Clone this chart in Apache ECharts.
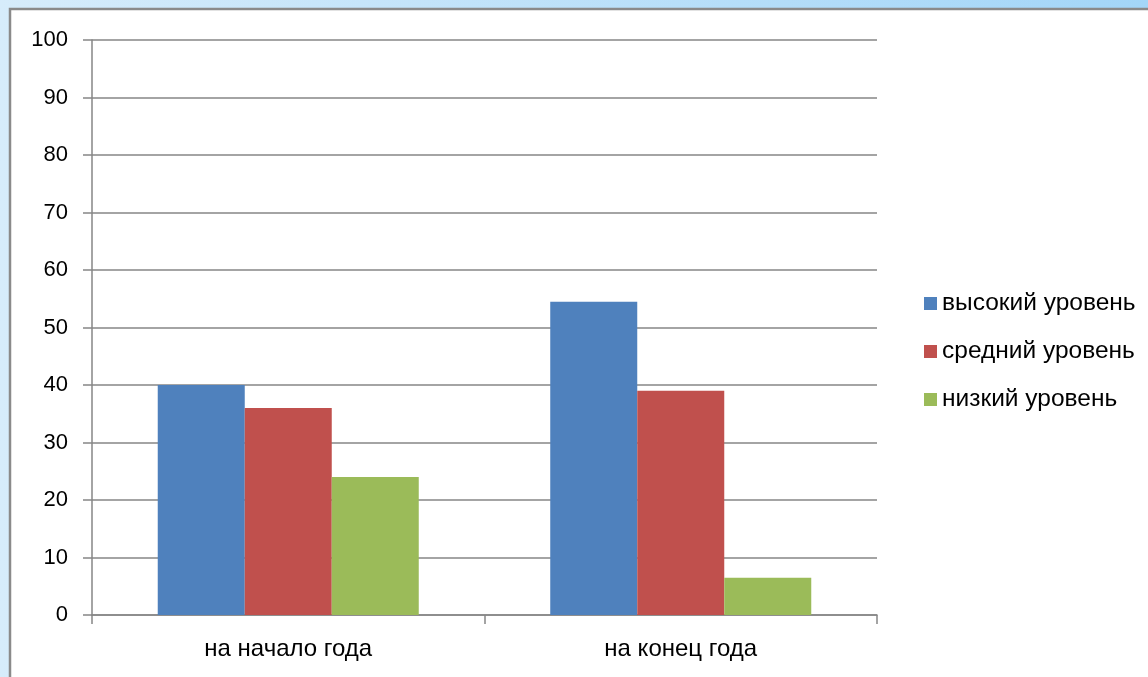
<!DOCTYPE html>
<html>
<head>
<meta charset="utf-8">
<script src="https://cdn.jsdelivr.net/npm/echarts@6/dist/echarts.min.js"></script>
<style>
html,body{margin:0;padding:0;}
#c{width:1148px;height:677px;}
</style>
</head>
<body>
<div id="c"></div>
<script>
var categories = ['на начало года', 'на конец года'];
var seriesNames = ['высокий уровень', 'средний уровень', 'низкий уровень'];
var highValues = [40, 54.5];
var midValues = [36, 39];
var lowValues = [24, 6.5];
var yTicks = [0, 10, 20, 30, 40, 50, 60, 70, 80, 90, 100];

var FONT = 'Liberation Sans';
var colors = ['#4F81BD', '#C0504D', '#9BBB59'];
var chart = echarts.init(document.getElementById('c'), null, {renderer: 'canvas'});
var valuesList = [highValues, midValues, lowValues];
var option = {
  animation: false,
  backgroundColor: {
    type: 'linear', x: 0, y: 0, x2: 1, y2: 0,
    colorStops: [{offset: 0, color: '#d6ecfb'}, {offset: 1, color: '#a3d6f8'}]
  },
  graphic: [{
    type: 'rect', z: -10, silent: true,
    shape: {x: 10, y: 9, width: 1200, height: 800},
    style: {fill: '#ffffff', stroke: '#8a8a8a', lineWidth: 2.5}
  }],
  textStyle: {fontFamily: FONT},
  legend: {
    orient: 'vertical',
    left: 919, top: 286,
    itemWidth: 13, itemHeight: 13, itemGap: 23,
    icon: 'rect',
    textStyle: {fontFamily: FONT, fontSize: 24.5, color: '#000'},
    data: seriesNames
  },
  grid: {left: 92, top: 40, right: 271, bottom: 62, containLabel: false},
  xAxis: {
    type: 'category',
    data: categories,
    axisLine: {lineStyle: {color: '#868686', width: 1.5}},
    axisTick: {show: true, length: 9, lineStyle: {color: '#868686', width: 1.5}},
    axisLabel: {fontFamily: FONT, fontSize: 24, color: '#000', margin: 22}
  },
  yAxis: {
    type: 'value',
    min: 0, max: 100, interval: 10,
    axisLine: {show: true, lineStyle: {color: '#868686', width: 1.5}},
    axisTick: {show: true, length: 9, lineStyle: {color: '#868686', width: 1.5}},
    splitLine: {lineStyle: {color: '#868686', width: 1.5}},
    axisLabel: {fontFamily: FONT, fontSize: 22, color: '#000', margin: 24,
      formatter: function (v) { return yTicks.indexOf(v) >= 0 ? String(v) : ''; }}
  },
  series: seriesNames.map(function (n, i) {
    return {
      name: n, type: 'bar', data: valuesList[i],
      itemStyle: {color: colors[i]},
      barGap: '0%', barCategoryGap: '33.5%'
    };
  })
};
chart.setOption(option);
</script>
</body>
</html>
